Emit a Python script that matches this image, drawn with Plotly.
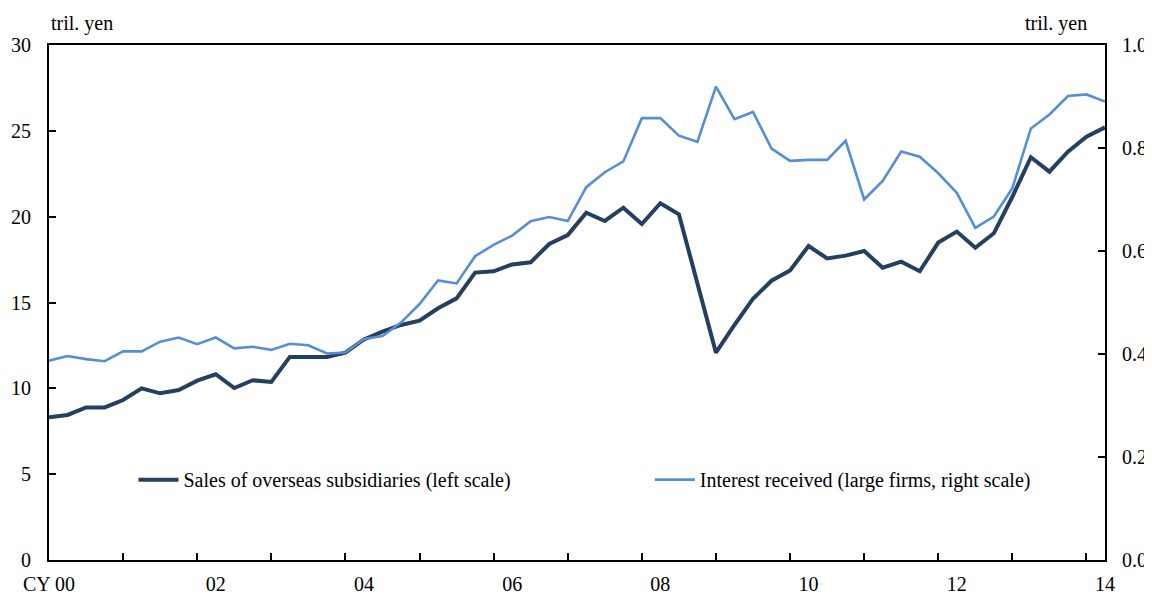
import plotly.graph_objects as go

# Quarterly data, 2000Q1 .. 2014Q2
sales_overseas = [
    8.31, 8.45, 8.89, 8.89, 9.32, 10.00, 9.71, 9.90, 10.45, 10.82,
    10.02, 10.47, 10.37, 11.83, 11.83, 11.83, 12.08, 12.85, 13.30, 13.69,
    13.94, 14.66, 15.24, 16.74, 16.82, 17.22, 17.34, 18.41, 18.93, 20.23,
    19.75, 20.52, 19.57, 20.78, 20.14, 16.10, 12.08, 13.69, 15.22, 16.27,
    16.87, 18.29, 17.57, 17.73, 18.00, 17.03, 17.38, 16.82, 18.49, 19.13,
    18.19, 19.03, 21.16, 23.46, 22.62, 23.79, 24.66, 25.20,
]
interest_received = [
    0.387, 0.396, 0.390, 0.386, 0.405, 0.405, 0.424, 0.432, 0.419, 0.432,
    0.411, 0.414, 0.408, 0.420, 0.417, 0.401, 0.403, 0.429, 0.435, 0.461,
    0.497, 0.543, 0.537, 0.590, 0.612, 0.630, 0.658, 0.666, 0.658, 0.724,
    0.753, 0.774, 0.858, 0.858, 0.824, 0.812, 0.919, 0.856, 0.870, 0.799,
    0.775, 0.777, 0.777, 0.814, 0.700, 0.736, 0.793, 0.783, 0.751, 0.713,
    0.645, 0.667, 0.722, 0.838, 0.865, 0.901, 0.904, 0.890,
]
year_labels = ["CY 00", "02", "04", "06", "08", "10", "12", "14"]

n = len(sales_overseas)
x = list(range(n))
label_pos = [0] + [8 * k + 1 for k in range(1, len(year_labels))]
minor_ticks = list(range(4, n, 4))

FONT = "Liberation Serif"
DARK = "#243F60"
LIGHT = "#558ED5"

fig = go.Figure()
fig.add_trace(go.Scatter(
    x=x, y=sales_overseas, mode="lines",
    line=dict(color=DARK, width=4),
    name="Sales of overseas subsidiaries (left scale)",
    yaxis="y", legend="legend",
))
fig.add_trace(go.Scatter(
    x=x, y=interest_received, mode="lines",
    line=dict(color=LIGHT, width=2.6),
    name="Interest received (large firms, right scale)",
    yaxis="y2", legend="legend2",
))

# The page body has an 8px margin, so the figure is sized to fill the rest.
fig.update_layout(
    width=1144, height=589,
    margin=dict(l=41, r=47, t=37, b=37),
    paper_bgcolor="white", plot_bgcolor="white",
    font=dict(family=FONT, size=20, color="black"),
    showlegend=True,
    xaxis=dict(
        range=[0, n - 1], showgrid=False, zeroline=False, automargin=False,
        showline=True, linecolor="black", linewidth=2, mirror=True,
        tickmode="array", tickvals=label_pos, ticktext=year_labels,
        ticks="", ticklabelstandoff=5,
        minor=dict(tickmode="array", tickvals=minor_ticks, ticks="inside",
                   ticklen=7, tickwidth=1.5, tickcolor="black", showgrid=False),
    ),
    yaxis=dict(
        range=[0, 30], dtick=5, tick0=0, showgrid=False, zeroline=False,
        automargin=False,
        showline=True, linecolor="black", linewidth=2,
        ticks="inside", ticklen=7, tickwidth=1.5, tickcolor="black",
        ticklabelstandoff=12,
    ),
    yaxis2=dict(
        range=[0, 1], dtick=0.2, tick0=0, tickformat=".1f",
        overlaying="y", side="right", showgrid=False, zeroline=False,
        automargin=False,
        showline=True, linecolor="black", linewidth=2,
        ticks="inside", ticklen=7, tickwidth=1.5, tickcolor="black",
        ticklabelstandoff=11,
    ),
    legend=dict(
        x=0.080, y=0.156, xanchor="left", yanchor="middle",
        orientation="h", bgcolor="rgba(0,0,0,0)", borderwidth=0,
        itemwidth=40,
        font=dict(family=FONT, size=20),
    ),
    legend2=dict(
        x=0.569, y=0.156, xanchor="left", yanchor="middle",
        orientation="h", bgcolor="rgba(0,0,0,0)", borderwidth=0,
        itemwidth=40,
        font=dict(family=FONT, size=20),
    ),
    annotations=[
        dict(text="tril. yen", xref="paper", yref="paper", x=0.0, y=1.0,
             xanchor="left", yanchor="bottom", yshift=8, showarrow=False,
             font=dict(family=FONT, size=20)),
        dict(text="tril. yen", xref="paper", yref="paper", x=1.0, y=1.0,
             xanchor="right", yanchor="bottom", yshift=8, xshift=-16,
             showarrow=False, font=dict(family=FONT, size=20)),
    ],
)

fig.write_html("out.html")
